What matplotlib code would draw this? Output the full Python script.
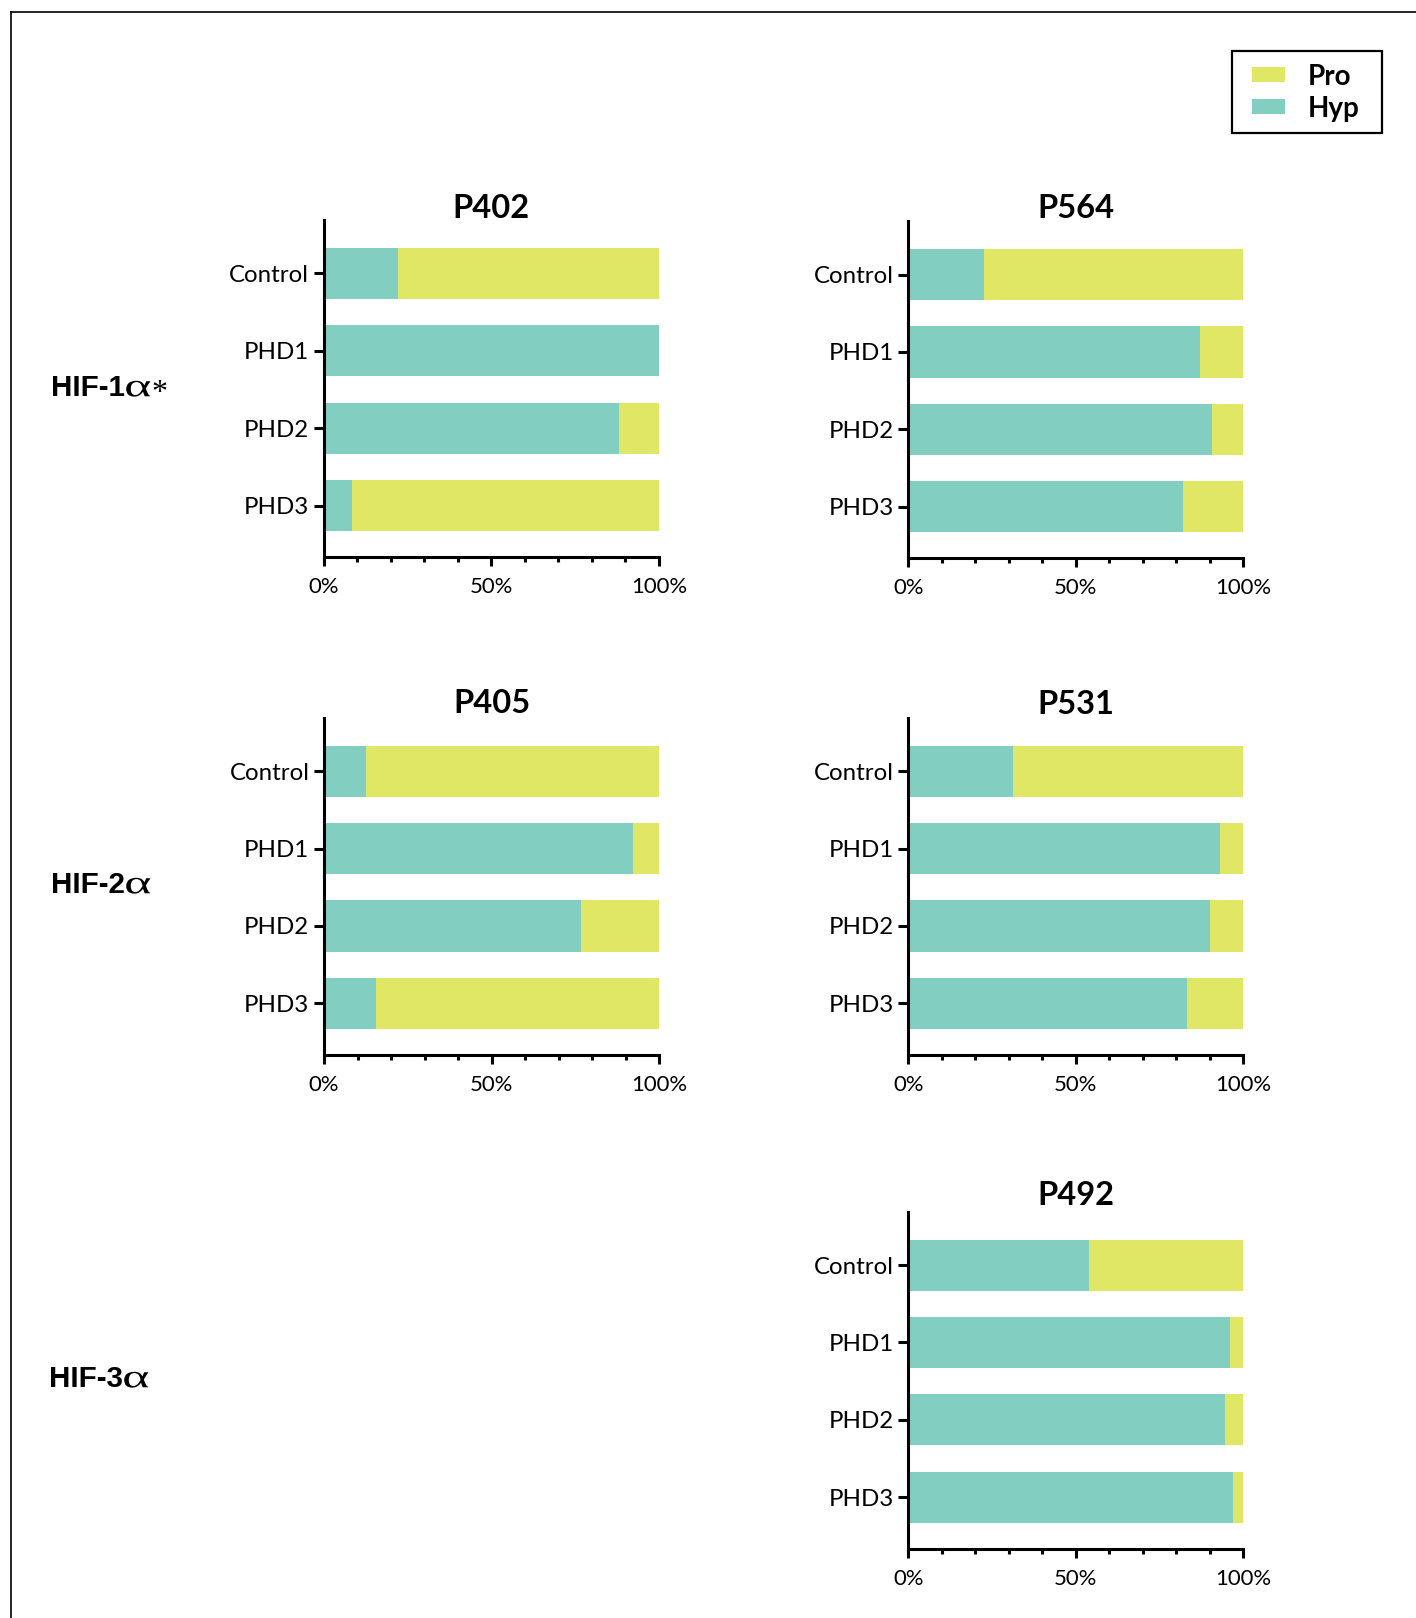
import numpy as np
import matplotlib
matplotlib.use("Agg")
from matplotlib import pyplot as plt
from matplotlib.lines import Line2D
from matplotlib.patches import Rectangle, PathPatch
from matplotlib.textpath import TextPath
from matplotlib.font_manager import FontProperties
from matplotlib.transforms import Affine2D, IdentityTransform
from matplotlib.ticker import MultipleLocator, FixedLocator

categories = ["Control", "PHD1", "PHD2", "PHD3"]

# hydroxylated fraction (%) per site; the rest is unmodified proline
hyp_p402 = [22.3, 100.0, 88.1, 8.5]
hyp_p564 = [22.6, 87.3, 90.6, 82.1]
hyp_p405 = [12.4, 92.1, 76.6, 15.6]
hyp_p531 = [31.3, 93.1, 90.1, 83.4]
hyp_p492 = [54.0, 96.1, 94.6, 96.9]

# row labels: (prefix, greek, suffix)
row_labels = [("HIF-1", "α", "*"), ("HIF-2", "α", ""), ("HIF-3", "α", "")]
x_ticks = [0, 50, 100]
x_tick_labels = ["0%", "50%", "100%"]
legend_labels = ["Pro", "Hyp"]

HYP_COLOR = "#82cec1"
PRO_COLOR = "#e0e764"

W, H = 1416, 1618

fig = plt.figure(figsize=(W / 100, H / 100), dpi=100)


def rect(x0, x1, top, bottom):
    return [x0 / W, 1 - bottom / H, (x1 - x0) / W, (bottom - top) / H]


def draw_panel(box, title, title_y, hyp):
    ax = fig.add_axes(box)
    hyp = np.array(hyp)
    pro = 100 - hyp
    y = np.arange(len(categories))
    ax.barh(y, hyp, height=0.66, color=HYP_COLOR, linewidth=0)
    ax.barh(y, pro, left=hyp, height=0.66, color=PRO_COLOR, linewidth=0)

    ax.set_xlim(0, 100)
    ax.set_ylim(3.662, -0.686)
    ax.set_yticks(y)
    ax.set_yticklabels(categories, family="Lato", fontsize=17.3)
    ax.xaxis.set_major_locator(FixedLocator(x_ticks))
    ax.set_xticklabels(x_tick_labels, family="Lato", fontsize=15.9)
    ax.xaxis.set_minor_locator(MultipleLocator(10))

    for side in ["top", "right"]:
        ax.spines[side].set_visible(False)
    for side in ["left", "bottom"]:
        ax.spines[side].set_linewidth(2.2)
        ax.spines[side].set_capstyle("projecting")
    ax.tick_params(axis="y", length=7, width=2.2, pad=3.5)
    ax.tick_params(axis="x", which="major", length=6.5, width=2.2, pad=8)
    ax.tick_params(axis="x", which="minor", length=3.5, width=2.2)

    # title baseline given in figure pixels
    cx = box[0] + box[2] / 2
    fig.text(cx, 1 - title_y / H, title, ha="center", va="baseline",
             family="Lato", fontweight="bold", fontsize=23.5)
    return ax


draw_panel(rect(323.5, 659, 220, 557), "P402", 218, hyp_p402)
draw_panel(rect(908.3, 1243, 221.5, 558), "P564", 218.3, hyp_p564)
draw_panel(rect(324, 659.3, 718.3, 1054.5), "P405", 713.3, hyp_p405)
draw_panel(rect(908.3, 1243, 718.3, 1054.5), "P531", 714, hyp_p531)
draw_panel(rect(908.3, 1243.3, 1212, 1548.5), "P492", 1205, hyp_p492)

# row labels on the left: sans prefix, wide serif alpha, raised asterisk
renderer = fig.canvas.get_renderer()
serif = FontProperties(family="Liberation Serif")
for (prefix, greek, suffix), (x, yb) in zip(row_labels,
                                            [(50.7, 396), (50.7, 893), (48.7, 1387)]):
    t = fig.text(x / W, 1 - yb / H, prefix, ha="left", va="baseline",
                 family="Liberation Sans", fontweight="bold", fontsize=21.3)
    x_end = t.get_window_extent(renderer).x1 + 1.5

    glyph = TextPath((0, 0), greek, size=100, prop=serif)
    ext = glyph.get_extents()
    fit = (Affine2D().translate(-ext.x0, -ext.y0)
           .scale(24 / ext.width, 15.8 / ext.height)
           .translate(x_end, H - yb - 0.6))
    fig.add_artist(PathPatch(fit.transform_path(glyph), facecolor="black",
                             edgecolor="none", transform=IdentityTransform()))
    x_end += 24
    if suffix:
        fig.text((x_end + 1.5) / W, 1 - (yb + 4.5) / H, suffix, ha="left",
                 va="baseline", family="Liberation Serif", fontsize=23)

# legend box, drawn in figure pixels
fig.add_artist(Rectangle((1232 / W, 1 - 133.3 / H), 150.3 / W, 82.3 / H,
                         transform=fig.transFigure, facecolor="white",
                         edgecolor="black", lw=1.6))
for label, color, top in zip(legend_labels, [PRO_COLOR, HYP_COLOR], [67, 99]):
    fig.add_artist(Rectangle((1252 / W, 1 - (top + 14.7) / H), 33 / W, 14.7 / H,
                             transform=fig.transFigure, facecolor=color,
                             edgecolor="none"))
    fig.text(1308 / W, 1 - (top + 7.3) / H, label, ha="left", va="center_baseline",
             family="Lato", fontweight="bold", fontsize=20)

# outer frame (top and left edges)
fig.add_artist(Line2D([10.5 / W, 1], [1 - 11.5 / H, 1 - 11.5 / H],
                      transform=fig.transFigure, color="black", lw=1.2))
fig.add_artist(Line2D([10.5 / W, 10.5 / W], [1 - 11.5 / H, 0],
                      transform=fig.transFigure, color="black", lw=1.2))

fig.savefig("out.png", dpi=100)
plt.close(fig)
